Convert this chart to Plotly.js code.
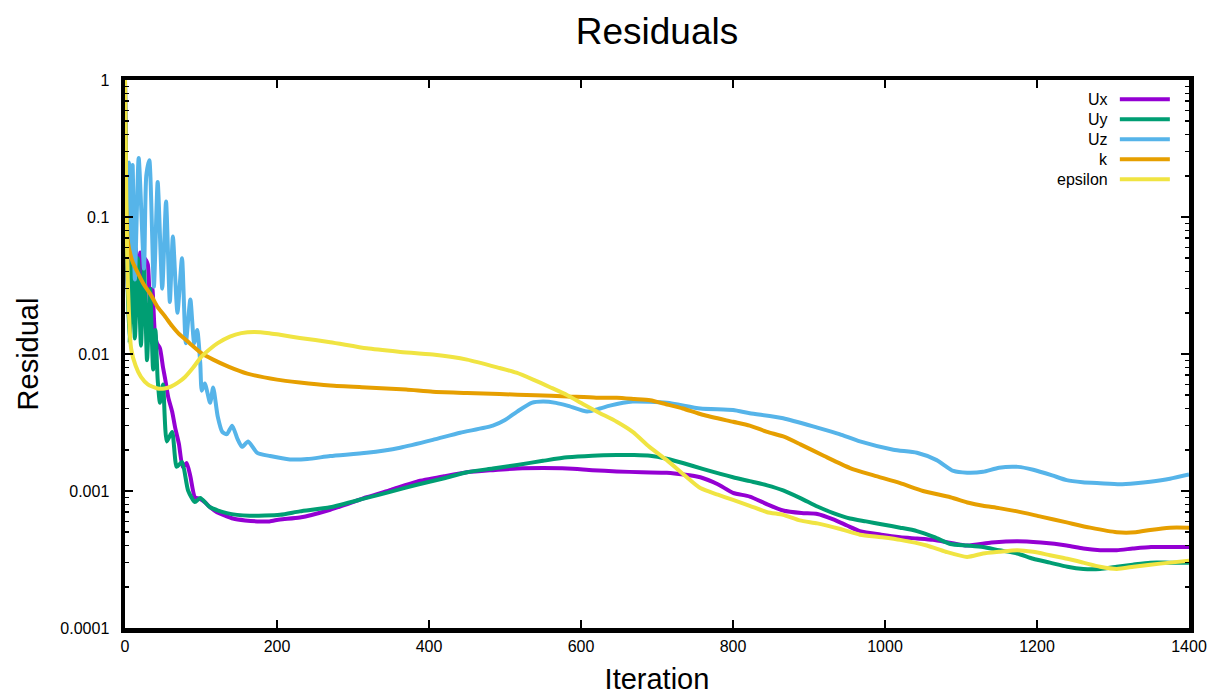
<!DOCTYPE html>
<html>
<head>
<meta charset="utf-8">
<script src="https://cdn.plot.ly/plotly-3.0.1.min.js"></script>
<style>html,body{margin:0;padding:0;background:#fff;}#chart{width:1215px;height:696px;}</style>
</head>
<body>
<div id="chart"></div>
<script>
// ---- data ----
const seriesNames = ["Ux", "Uy", "Uz", "k", "epsilon"];
const seriesColors = ["#9400D3", "#009E73", "#56B4E9", "#E69F00", "#F0E442"];

const uxIter = [0,2,5,8,11,14,17,20,23,26,30,33,36,39,42,46,50,53,57,62,66,71,76,81,86,92,98,105,112,121,132,142,158,174,190,204,230,270,318,350,384,420,450,484,516,550,582,615,647,680,713,735,757,780,800,822,845,866,890,911,932,950,967,995,1020,1042,1063,1085,1108,1140,1174,1205,1239,1261,1283,1305,1326,1350,1371,1400];
const uxVals = [1,0.06,0.02,0.06,0.025,0.06,0.02,0.055,0.018,0.05,0.045,0.022,0.03,0.015,0.012,0.011,0.008,0.0065,0.0048,0.0038,0.0029,0.0022,0.0015,0.0016,0.00128,0.0009,0.00088,0.00083,0.00076,0.0007,0.00066,0.00063,0.00061,0.0006,0.0006,0.00062,0.00064,0.00073,0.0009,0.00102,0.00117,0.00128,0.00137,0.00142,0.00146,0.00147,0.00146,0.00142,0.00139,0.00137,0.00136,0.00132,0.00126,0.00112,0.00097,0.00091,0.0008,0.00072,0.00069,0.00068,0.00062,0.00056,0.00051,0.00048,0.00046,0.00045,0.00044,0.00042,0.0004,0.00042,0.00043,0.00042,0.0004,0.00038,0.00037,0.00037,0.00038,0.00039,0.00039,0.00039];

const uyIter = [0,3,6,9,13,17,21,25,29,33,37,40,43,46,50,55,62,68,75,83,92,99,112,134,164,204,230,270,318,350,384,420,450,484,516,550,582,615,647,670,691,713,734,760,800,822,845,866,890,911,932,954,975,997,1020,1042,1065,1086,1108,1129,1150,1174,1195,1217,1240,1261,1283,1305,1326,1349,1375,1400];
const uyVals = [1,0.04,0.012,0.055,0.013,0.05,0.0115,0.045,0.009,0.03,0.0077,0.015,0.0065,0.0044,0.006,0.0023,0.0027,0.0015,0.00163,0.00101,0.00083,0.00089,0.00076,0.00069,0.00066,0.00067,0.00071,0.00076,0.00089,0.00099,0.00111,0.00124,0.00137,0.00146,0.00155,0.00166,0.00176,0.00181,0.00183,0.00183,0.00181,0.00172,0.0016,0.00145,0.00126,0.00118,0.0011,0.00101,0.00088,0.00077,0.00069,0.00063,0.0006,0.00057,0.00054,0.00051,0.00046,0.00041,0.0004,0.00039,0.00037,0.00035,0.00032,0.0003,0.00028,0.00027,0.00027,0.00028,0.00029,0.0003,0.0003,0.0003];

const uzIter = [0,2,5,8,10,13,18,25,28,32,38,43,49,54,59,63,69,75,80,86,91,95,99,101,105,112,116,122,128,134,141,148,154,162,174,191,217,240,270,318,362,405,441,484,500,516,535,550,567,582,608,625,638,668,713,757,800,822,866,911,940,967,1011,1042,1068,1090,1108,1129,1150,1175,1195,1220,1239,1260,1283,1309,1330,1349,1375,1400];
const uzVals = [0.1,0.2,0.25,0.05,0.24,0.035,0.27,0.042,0.2,0.26,0.031,0.18,0.03,0.13,0.024,0.072,0.02,0.05,0.012,0.025,0.012,0.015,0.0086,0.0054,0.0061,0.0044,0.0057,0.0035,0.0027,0.0026,0.003,0.0024,0.0021,0.0023,0.0019,0.0018,0.0017,0.00171,0.0018,0.0019,0.00207,0.00236,0.00266,0.003,0.0033,0.0038,0.0044,0.0045,0.0044,0.0042,0.0038,0.004,0.0042,0.0045,0.0044,0.004,0.0039,0.0037,0.0034,0.0029,0.0026,0.0023,0.002,0.0019,0.00168,0.0014,0.00136,0.00138,0.00148,0.0015,0.00143,0.0013,0.0012,0.00116,0.00114,0.00112,0.00114,0.00117,0.00123,0.00132];

const kIter = [0,1,4,10,17,25,34,43,53,62,70,85,100,116,136,161,200,230,270,318,370,405,450,493,540,582,620,647,670,691,712,734,760,800,822,845,866,888,920,954,985,1020,1050,1086,1110,1129,1150,1174,1205,1239,1270,1305,1330,1349,1375,1400];
const kVals = [1,0.15,0.065,0.047,0.039,0.032,0.027,0.022,0.0187,0.016,0.0142,0.012,0.0102,0.0091,0.0081,0.0072,0.0065,0.0062,0.0059,0.0057,0.0055,0.0053,0.0052,0.0051,0.005,0.0049,0.0048,0.0048,0.0047,0.0046,0.0043,0.004,0.0036,0.0032,0.003,0.0027,0.0025,0.0022,0.0018,0.00147,0.0013,0.00114,0.001,0.0009,0.00082,0.00078,0.00075,0.00071,0.00065,0.00059,0.00054,0.0005,0.0005,0.00052,0.00054,0.00054];

const epsIter = [0,2,4,8,14,21,30,43,52,61,70,79,90,100,111,122,138,153,170,190,204,230,270,318,360,405,450,493,515,537,560,582,603,625,647,668,690,713,735,757,780,800,822,845,866,888,911,940,967,995,1020,1055,1080,1108,1129,1150,1174,1195,1217,1240,1261,1283,1305,1327,1349,1375,1400];
const epsVals = [1,0.1,0.03,0.011,0.0082,0.0068,0.006,0.0056,0.0056,0.0058,0.0062,0.0068,0.008,0.0095,0.0108,0.012,0.0134,0.0142,0.0145,0.0142,0.0138,0.0131,0.0122,0.011,0.0104,0.0099,0.0091,0.0079,0.0073,0.0065,0.0057,0.005,0.0043,0.0037,0.0032,0.0027,0.0021,0.00168,0.00132,0.00105,0.00094,0.00086,0.00078,0.0007,0.00067,0.00061,0.00058,0.00053,0.00048,0.00046,0.00044,0.0004,0.00036,0.00033,0.00035,0.00036,0.00037,0.00036,0.00034,0.00032,0.0003,0.00028,0.00027,0.00028,0.00029,0.0003,0.00031];

const xTickVals = [0,200,400,600,800,1000,1200,1400];
const yTickVals = [0.0001,0.001,0.01,0.1,1];
const yTickText = ["0.0001","0.001","0.01","0.1","1"];

// ---- chart ----
const xs = [uxIter, uyIter, uzIter, kIter, epsIter];
const ys = [uxVals, uyVals, uzVals, kVals, epsVals];
const traces = seriesNames.map((n, i) => ({
  x: xs[i], y: ys[i], name: n, type: 'scatter', mode: 'lines',
  line: {color: seriesColors[i], width: 4, shape: 'spline', smoothing: 0.6},
  cliponaxis: true, showlegend: false
}));

const FONT = '"Liberation Sans", Arial, sans-serif';
const annotations = [];
const shapes = [];
seriesNames.forEach((n, i) => {
  const yy = 0.965 - i * 0.0365;
  annotations.push({xref:'paper', yref:'paper', x:0.926, y:yy, xanchor:'right', yanchor:'middle',
    text:n, showarrow:false, font:{family:FONT, size:16, color:'#000'}});
  shapes.push({type:'line', xref:'paper', yref:'paper', x0:0.935, x1:0.982, y0:yy, y1:yy,
    line:{color:seriesColors[i], width:4}});
});

const layout = {
  width: 1215, height: 696,
  margin: {l:125, r:26, t:80, b:68},
  paper_bgcolor:'#fff', plot_bgcolor:'#fff',
  font: {family: FONT, color:'#000'},
  title: {text:'Residuals', x:0.5, xref:'paper', xanchor:'center', y:0.955, yref:'container', yanchor:'middle',
    font:{family:FONT, size:37, color:'#000'}},
  xaxis: {
    range:[0,1400], tickvals:xTickVals, ticks:'inside', ticklen:8, tickwidth:2, tickcolor:'#000',
    showline:true, linewidth:4.5, linecolor:'#000', mirror:'allticks', showgrid:false, zeroline:false,
    tickfont:{family:FONT, size:16, color:'#000'},
    title:{text:'Iteration', font:{family:FONT, size:29, color:'#000'}, standoff:16}
  },
  yaxis: {
    type:'log', range:[-4,0], tickvals:yTickVals, ticktext:yTickText,
    ticks:'inside', ticklen:8, tickwidth:2, tickcolor:'#000',
    minor:{ticks:'inside', ticklen:4, tickwidth:1.5, tickcolor:'#000', dtick:'D1', showgrid:false},
    showline:true, linewidth:4.5, linecolor:'#000', mirror:'allticks', showgrid:false, zeroline:false,
    tickfont:{family:FONT, size:16, color:'#000'}, ticklabelstandoff:8,
    title:{text:'Residual', font:{family:FONT, size:29, color:'#000'}, standoff:14}
  },
  annotations, shapes
};

Plotly.newPlot('chart', traces, layout, {displayModeBar:false, staticPlot:true});
</script>
</body>
</html>
